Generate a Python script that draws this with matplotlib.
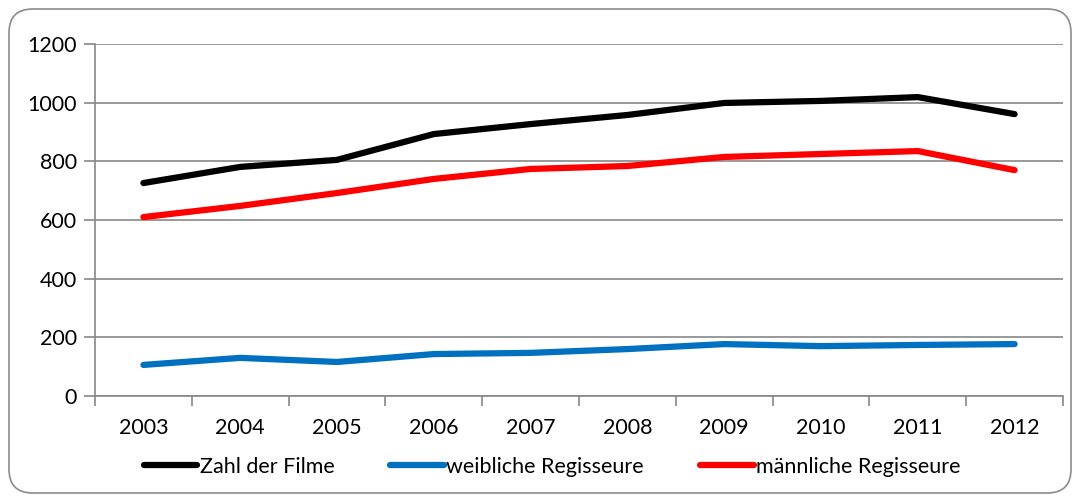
import matplotlib
matplotlib.use("Agg")
import matplotlib.pyplot as plt
from matplotlib.patches import FancyBboxPatch

years = ["2003", "2004", "2005", "2006", "2007", "2008", "2009", "2010", "2011", "2012"]
zahl_filme = [726, 781, 805, 893, 927, 958, 999, 1006, 1019, 961]
weiblich = [106, 130, 116, 143, 147, 160, 177, 170, 174, 177]
maennlich = [610, 648, 692, 740, 774, 784, 815, 825, 835, 770]

plt.rcParams['font.family'] = ['Lato', 'DejaVu Sans']

fig = plt.figure(figsize=(10.78, 5.01), dpi=100)
ax = fig.add_axes([95 / 1078, 1 - 396 / 501, (1063 - 95) / 1078, (396 - 44) / 501])

# rounded frame round the whole chart
frame = FancyBboxPatch((9 / 1078, 8 / 501), 1062 / 1078, 484 / 501,
                       boxstyle="round,pad=0,rounding_size=0.022",
                       transform=fig.transFigure, facecolor="none",
                       edgecolor="#8c8c8c", linewidth=1.2, mutation_aspect=1078 / 501)
fig.patches.append(frame)

x = list(range(len(years)))
ax.plot(x, zahl_filme, color="black", lw=4.5, solid_capstyle="round", label="Zahl der Filme")
ax.plot(x, weiblich, color="#0070c0", lw=4.5, solid_capstyle="round", label="weibliche Regisseure")
ax.plot(x, maennlich, color="#ff0000", lw=4.5, solid_capstyle="round", label="männliche Regisseure")

ax.set_xlim(-0.5, len(years) - 0.5)
ax.set_ylim(0, 1200)
ax.set_yticks(range(0, 1201, 200))
ax.set_xticks(x)
ax.set_xticklabels(years)
ax.set_xticks([i - 0.5 for i in range(len(years) + 1)], minor=True)
ax.tick_params(axis="x", which="major", length=0, pad=16, labelsize=15.5)
ax.tick_params(axis="x", which="minor", length=7, color="#888888", width=1.2)
ax.tick_params(axis="y", length=8, color="#888888", width=1.2, pad=5, labelsize=15.5)
ax.grid(axis="y", color="#888888", lw=1.2)
ax.set_axisbelow(True)
for s in ["top", "right"]:
    ax.spines[s].set_visible(False)
for s in ["left", "bottom"]:
    ax.spines[s].set_color("#888888")
    ax.spines[s].set_linewidth(1.2)

fig.legend(loc="center", bbox_to_anchor=(0.512, 1 - 467 / 501), ncol=3, frameon=False,
           fontsize=15.5, handlelength=2.5, handletextpad=0.1, columnspacing=2.6)

fig.savefig("out.png", dpi=100)
